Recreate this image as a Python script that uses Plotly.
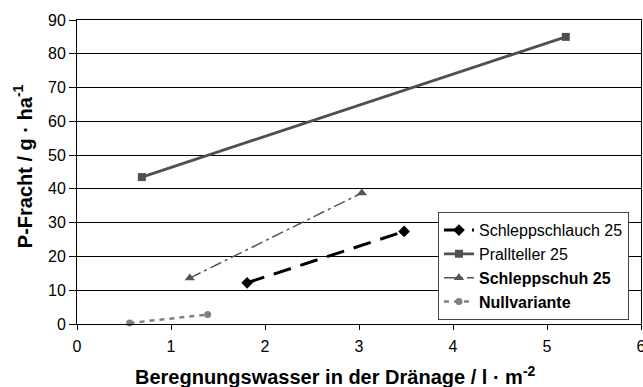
import plotly.graph_objects as go

# Series: irrigation water in drainage (l/m²) vs. P load (g/ha)
schlauch_x = [1.81, 3.48]
schlauch_y = [12.2, 27.4]
prall_x = [0.69, 5.20]
prall_y = [43.5, 85.0]
schuh_x = [1.20, 3.03]
schuh_y = [13.6, 38.8]
null_x = [0.56, 1.39]
null_y = [0.3, 2.8]

x_ticks = [0, 1, 2, 3, 4, 5, 6]
y_ticks = [0, 10, 20, 30, 40, 50, 60, 70, 80, 90]

FONT = "Liberation Sans, Arial, sans-serif"

fig = go.Figure()

fig.add_trace(go.Scatter(
    x=schlauch_x, y=schlauch_y, name="Schleppschlauch 25", mode="lines+markers",
    line=dict(color="#000000", width=3, dash="18px,10px"),
    marker=dict(symbol="diamond", size=9, color="#000000"),
    cliponaxis=False,
))
fig.add_trace(go.Scatter(
    x=prall_x, y=prall_y, name="Prallteller 25", mode="lines+markers",
    line=dict(color="#505050", width=2.8),
    marker=dict(symbol="square", size=8, color="#505050"),
    cliponaxis=False,
))
fig.add_trace(go.Scatter(
    x=schuh_x, y=schuh_y, name="<b>Schleppschuh 25</b>", mode="lines+markers",
    line=dict(color="#555555", width=1.5, dash="12px,4px,3px,4px"),
    marker=dict(symbol="triangle-up", size=9, color="#555555"),
    cliponaxis=False,
))
fig.add_trace(go.Scatter(
    x=null_x, y=null_y, name="<b>Nullvariante</b>", mode="lines+markers",
    line=dict(color="#808080", width=2.5, dash="5px,5px"),
    marker=dict(symbol="circle", size=7, color="#808080"),
    cliponaxis=False,
))

axis_common = dict(
    showline=True, linecolor="#000000", linewidth=1, mirror=True,
    ticks="outside", tickcolor="#000000", tickwidth=1,
    tickfont=dict(family=FONT, size=16, color="#000000"),
    zeroline=False, ticklabeloverflow="allow", automargin=False,
)

fig.update_xaxes(
    range=[0, 6], tickvals=x_ticks, showgrid=False, ticklen=5,
    ticklabelstandoff=3, **axis_common,
)
fig.update_yaxes(
    range=[0, 90], tickvals=y_ticks, showgrid=True, gridcolor="#000000",
    gridwidth=1, ticklen=7, **axis_common,
)

fig.add_annotation(
    text="Beregnungswasser in der Dränage / l · m<sup>-2</sup>",
    xref="paper", yref="paper", x=0.459, y=-0.168,
    xanchor="center", yanchor="middle", showarrow=False,
    font=dict(family=FONT, size=20, color="#000000", weight="bold"),
)
fig.add_annotation(
    text="P-Fracht / g · ha<sup>-1</sup>",
    xref="paper", yref="paper", x=-0.0963, y=0.518,
    xanchor="center", yanchor="middle", showarrow=False, textangle=-90,
    font=dict(family=FONT, size=20, color="#000000", weight="bold"),
)

fig.update_layout(
    width=643, height=387,
    margin=dict(l=77, r=2, t=20, b=63, autoexpand=False),
    paper_bgcolor="#ffffff", plot_bgcolor="#ffffff",
    font=dict(family=FONT, size=16, color="#000000"),
    showlegend=True,
    legend=dict(
        x=0.64, y=0.368, xanchor="left", yanchor="top",
        bgcolor="#ffffff", bordercolor="#444444", borderwidth=1,
        font=dict(family=FONT, size=16, color="#000000"),
        tracegroupgap=0,
    ),
)

fig.write_html("out.html")
